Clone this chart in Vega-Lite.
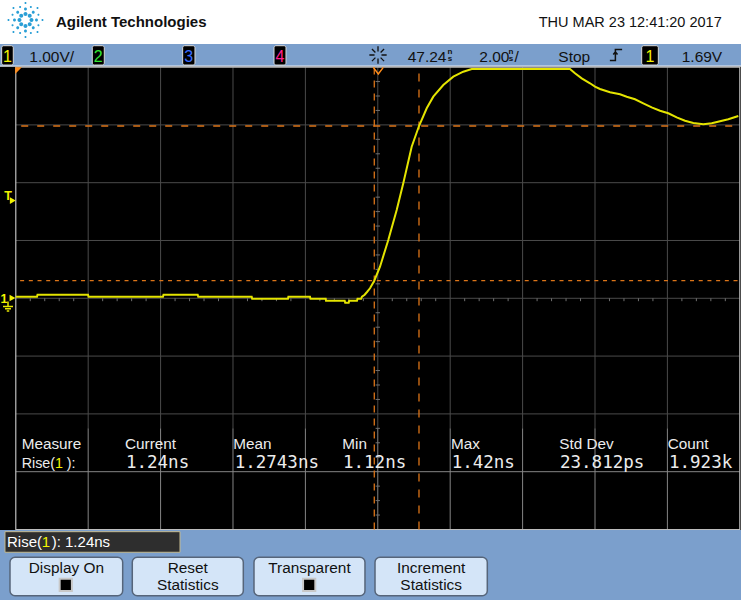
{
  "$schema": "https://vega.github.io/schema/vega-lite/v6.json",
  "width": 741,
  "height": 600,
  "padding": 0,
  "autosize": {"type": "none"},
  "background": "#ffffff",
  "config": {"view": {"stroke": null}, "text": {"baseline": "alphabetic"}},
  "encoding": {
    "x": {"field": "t", "type": "quantitative", "scale": {"domain": [-10.436, 10.033], "nice": false, "zero": false}, "axis": null},
    "y": {"field": "v", "type": "quantitative", "scale": {"domain": [-5.22, 5.161], "nice": false, "zero": false}, "axis": null}
  },
  "resolve": {"scale": {"color": "independent"}},
  "layer": [
    {
      "data": {"values": [
        {"t": -10.436, "t2": 10.033, "v": 4.4, "v2": 4.019},
        {"t": -10.436, "t2": 10.033, "v": -4.009, "v2": -5.22}
      ]},
      "mark": {"type": "rect", "color": "#7b9fcc"},
      "encoding": {"x2": {"field": "t2"}, "y2": {"field": "v2"}}
    },
    {
      "data": {"values": [{"t": -10.436, "t2": 10.033, "v": 4.019, "v2": -4.009}]},
      "mark": {"type": "rect", "color": "#000000"},
      "encoding": {"x2": {"field": "t2"}, "y2": {"field": "v2"}}
    },
    {
      "data": {"values": [{"t": -10.436, "t2": 10.033, "v": 4.017}]},
      "mark": {"type": "rule", "color": "#e6ecf5", "strokeWidth": 1.2},
      "encoding": {"x2": {"field": "t2"}}
    },
    {
      "data": {"values": [
        {"t": -8, "v": -2.25, "v2": 4}, {"t": -6, "v": -2.25, "v2": 4}, {"t": -4, "v": -2.25, "v2": 4},
        {"t": -2, "v": -2.25, "v2": 4}, {"t": 0, "v": -2.25, "v2": 4}, {"t": 2, "v": -2.25, "v2": 4},
        {"t": 4, "v": -2.25, "v2": 4}, {"t": 6, "v": -2.25, "v2": 4}, {"t": 8, "v": -2.25, "v2": 4}
      ]},
      "mark": {"type": "rule", "color": "#4a4a4a", "strokeWidth": 1},
      "encoding": {"y2": {"field": "v2"}}
    },
    {
      "data": {"values": [
        {"t": -8, "v": -4, "v2": -2.25}, {"t": -6, "v": -4, "v2": -2.25}, {"t": -4, "v": -4, "v2": -2.25},
        {"t": -2, "v": -4, "v2": -2.25}, {"t": 0, "v": -4, "v2": -2.25}, {"t": 2, "v": -4, "v2": -2.25},
        {"t": 4, "v": -4, "v2": -2.25}, {"t": 6, "v": -4, "v2": -2.25}, {"t": 8, "v": -4, "v2": -2.25}
      ]},
      "mark": {"type": "rule", "color": "#858585", "strokeWidth": 1},
      "encoding": {"y2": {"field": "v2"}}
    },
    {
      "data": {"values": [
        {"v": -2, "t": -10, "t2": 10}, {"v": -1, "t": -10, "t2": 10}, {"v": 0, "t": -10, "t2": 10},
        {"v": 1, "t": -10, "t2": 10}, {"v": 2, "t": -10, "t2": 10}, {"v": 3, "t": -10, "t2": 10}
      ]},
      "mark": {"type": "rule", "color": "#4a4a4a", "strokeWidth": 1},
      "encoding": {"x2": {"field": "t2"}}
    },
    {
      "data": {"values": [{"v": -3, "t": -10, "t2": 10}]},
      "mark": {"type": "rule", "color": "#858585", "strokeWidth": 1},
      "encoding": {"x2": {"field": "t2"}}
    },
    {
      "data": {"values": [
        {"t": -9.6, "v": 0, "v2": -0.05}, {"t": -9.2, "v": 0, "v2": -0.05}, {"t": -8.8, "v": 0, "v2": -0.05}, {"t": -8.4, "v": 0, "v2": -0.05},
        {"t": -7.6, "v": 0, "v2": -0.05}, {"t": -7.2, "v": 0, "v2": -0.05}, {"t": -6.8, "v": 0, "v2": -0.05}, {"t": -6.4, "v": 0, "v2": -0.05},
        {"t": -5.6, "v": 0, "v2": -0.05}, {"t": -5.2, "v": 0, "v2": -0.05}, {"t": -4.8, "v": 0, "v2": -0.05}, {"t": -4.4, "v": 0, "v2": -0.05},
        {"t": -3.6, "v": 0, "v2": -0.05}, {"t": -3.2, "v": 0, "v2": -0.05}, {"t": -2.8, "v": 0, "v2": -0.05}, {"t": -2.4, "v": 0, "v2": -0.05},
        {"t": -1.6, "v": 0, "v2": -0.05}, {"t": -1.2, "v": 0, "v2": -0.05}, {"t": -0.8, "v": 0, "v2": -0.05}, {"t": -0.4, "v": 0, "v2": -0.05},
        {"t": 0.4, "v": 0, "v2": -0.05}, {"t": 0.8, "v": 0, "v2": -0.05}, {"t": 1.2, "v": 0, "v2": -0.05}, {"t": 1.6, "v": 0, "v2": -0.05},
        {"t": 2.4, "v": 0, "v2": -0.05}, {"t": 2.8, "v": 0, "v2": -0.05}, {"t": 3.2, "v": 0, "v2": -0.05}, {"t": 3.6, "v": 0, "v2": -0.05},
        {"t": 4.4, "v": 0, "v2": -0.05}, {"t": 4.8, "v": 0, "v2": -0.05}, {"t": 5.2, "v": 0, "v2": -0.05}, {"t": 5.6, "v": 0, "v2": -0.05},
        {"t": 6.4, "v": 0, "v2": -0.05}, {"t": 6.8, "v": 0, "v2": -0.05}, {"t": 7.2, "v": 0, "v2": -0.05}, {"t": 7.6, "v": 0, "v2": -0.05},
        {"t": 8.4, "v": 0, "v2": -0.05}, {"t": 8.8, "v": 0, "v2": -0.05}, {"t": 9.2, "v": 0, "v2": -0.05}, {"t": 9.6, "v": 0, "v2": -0.05}
      ]},
      "mark": {"type": "rule", "color": "#707070", "strokeWidth": 1},
      "encoding": {"y2": {"field": "v2"}}
    },
    {
      "data": {"values": [
        {"v": -3.75, "t": -0.06, "t2": 0.06}, {"v": -3.5, "t": -0.06, "t2": 0.06}, {"v": -3.25, "t": -0.06, "t2": 0.06},
        {"v": -2.75, "t": -0.06, "t2": 0.06}, {"v": -2.5, "t": -0.06, "t2": 0.06}, {"v": -2.25, "t": -0.06, "t2": 0.06},
        {"v": -1.75, "t": -0.06, "t2": 0.06}, {"v": -1.5, "t": -0.06, "t2": 0.06}, {"v": -1.25, "t": -0.06, "t2": 0.06},
        {"v": -0.75, "t": -0.06, "t2": 0.06}, {"v": -0.5, "t": -0.06, "t2": 0.06}, {"v": -0.25, "t": -0.06, "t2": 0.06},
        {"v": 0.25, "t": -0.06, "t2": 0.06}, {"v": 0.5, "t": -0.06, "t2": 0.06}, {"v": 0.75, "t": -0.06, "t2": 0.06},
        {"v": 1.25, "t": -0.06, "t2": 0.06}, {"v": 1.5, "t": -0.06, "t2": 0.06}, {"v": 1.75, "t": -0.06, "t2": 0.06},
        {"v": 2.25, "t": -0.06, "t2": 0.06}, {"v": 2.5, "t": -0.06, "t2": 0.06}, {"v": 2.75, "t": -0.06, "t2": 0.06},
        {"v": 3.25, "t": -0.06, "t2": 0.06}, {"v": 3.5, "t": -0.06, "t2": 0.06}, {"v": 3.75, "t": -0.06, "t2": 0.06}
      ]},
      "mark": {"type": "rule", "color": "#707070", "strokeWidth": 1},
      "encoding": {"x2": {"field": "t2"}}
    },
    {
      "data": {"values": [{"t": -10, "t2": 10, "v": -4, "v2": 4}]},
      "mark": {"type": "rect", "fillOpacity": 0, "stroke": "#bdbdbd", "strokeWidth": 1.2},
      "encoding": {"x2": {"field": "t2"}, "y2": {"field": "v2"}}
    },
    {
      "data": {"values": [{"v": 2.981, "t": -9.85, "t2": 10}]},
      "mark": {"type": "rule", "color": "#dc7418", "strokeWidth": 1.3, "strokeDash": [7, 9]},
      "encoding": {"x2": {"field": "t2"}}
    },
    {
      "data": {"values": [{"v": 0.3045, "t": -9.88, "t2": 10}]},
      "mark": {"type": "rule", "color": "#dc7418", "strokeWidth": 1.3, "strokeDash": [4, 4.7]},
      "encoding": {"x2": {"field": "t2"}}
    },
    {
      "data": {"values": [{"t": -0.097, "v": -4, "v2": 4}]},
      "mark": {"type": "rule", "color": "#dc7418", "strokeWidth": 1.3, "strokeDash": [7, 6]},
      "encoding": {"y2": {"field": "v2"}}
    },
    {
      "data": {"values": [{"t": 1.138, "v": -4, "v2": 4}]},
      "mark": {"type": "rule", "color": "#dc7418", "strokeWidth": 1.3, "strokeDash": [8, 8]},
      "encoding": {"y2": {"field": "v2"}}
    },
    {
      "data": {"values": [
        {"t": -10.0, "v": 0.028},
        {"t": -9.414, "v": 0.028}, {"t": -9.4, "v": 0.062},
        {"t": -8.005, "v": 0.062}, {"t": -7.99, "v": 0.028},
        {"t": -5.934, "v": 0.028}, {"t": -5.92, "v": 0.062},
        {"t": -4.975, "v": 0.062}, {"t": -4.96, "v": 0.028},
        {"t": -3.483, "v": 0.028}, {"t": -3.47, "v": -0.007},
        {"t": -2.481, "v": -0.007}, {"t": -2.47, "v": 0.028},
        {"t": -1.873, "v": 0.028}, {"t": -1.86, "v": -0.007},
        {"t": -1.439, "v": -0.007}, {"t": -1.43, "v": -0.042},
        {"t": -0.914, "v": -0.042}, {"t": -0.9, "v": -0.076},
        {"t": -0.804, "v": -0.076}, {"t": -0.79, "v": -0.042},
        {"t": -0.575, "v": -0.042}, {"t": -0.56, "v": -0.007},
        {"t": -0.46, "v": -0.007},
        {"t": -0.436, "v": 0.028},
        {"t": -0.362, "v": 0.062},
        {"t": -0.298, "v": 0.109},
        {"t": -0.215, "v": 0.173},
        {"t": -0.097, "v": 0.304},
        {"t": 0.061, "v": 0.547},
        {"t": 0.29, "v": 1.009},
        {"t": 0.522, "v": 1.528},
        {"t": 0.704, "v": 1.99},
        {"t": 0.936, "v": 2.623},
        {"t": 1.138, "v": 2.981},
        {"t": 1.351, "v": 3.287},
        {"t": 1.533, "v": 3.488},
        {"t": 1.809, "v": 3.69},
        {"t": 2.086, "v": 3.834},
        {"t": 2.362, "v": 3.92},
        {"t": 2.594, "v": 3.967},
        {"t": 5.309, "v": 3.967},
        {"t": 5.447, "v": 3.893},
        {"t": 5.633, "v": 3.806},
        {"t": 5.862, "v": 3.72},
        {"t": 6.0, "v": 3.661},
        {"t": 6.138, "v": 3.621},
        {"t": 6.414, "v": 3.564},
        {"t": 6.691, "v": 3.529},
        {"t": 6.876, "v": 3.488},
        {"t": 7.105, "v": 3.443},
        {"t": 7.334, "v": 3.374},
        {"t": 7.566, "v": 3.304},
        {"t": 7.796, "v": 3.246},
        {"t": 8.025, "v": 3.201},
        {"t": 8.257, "v": 3.131},
        {"t": 8.486, "v": 3.073},
        {"t": 8.715, "v": 3.033},
        {"t": 8.992, "v": 3.01},
        {"t": 9.224, "v": 3.028},
        {"t": 9.453, "v": 3.062},
        {"t": 9.683, "v": 3.097},
        {"t": 9.959, "v": 3.154}
      ]},
      "mark": {"type": "line", "color": "#e4e400", "strokeWidth": 2},
      "encoding": {}
    },
    {
      "data": {"values": [{"t": -9.925, "v": 3.939}]},
      "mark": {"type": "point", "shape": "M-1,-1H1L-1,1Z", "filled": true, "color": "#ff8c1a", "size": 44, "opacity": 1},
      "encoding": {}
    },
    {
      "data": {"values": [{"t": 0.014, "v": 3.938}]},
      "mark": {"type": "point", "shape": "M-1,-0.66L0,0.66L1,-0.66", "filled": false, "color": "#ff8c1a", "strokeWidth": 1.5, "size": 100, "opacity": 1},
      "encoding": {}
    },
    {
      "data": {"values": [{"t": -10.083, "v": 1.69}, {"t": -10.091, "v": 0.005}]},
      "mark": {"type": "point", "shape": "triangle-right", "filled": true, "color": "#f2f200", "size": 45, "opacity": 1},
      "encoding": {}
    },
    {
      "data": {"values": [{"t": -10.215, "v": -0.142}]},
      "mark": {"type": "point", "shape": "M0,-1V0M-1,0H1M-0.6,0.45H0.6M-0.25,0.9H0.25", "filled": false, "color": "#e6e600", "strokeWidth": 1.5, "size": 100, "opacity": 1},
      "encoding": {}
    },
    {
      "data": {"values": [{"t": -10.215, "v": 1.709, "label": "T"}, {"t": -10.326, "v": -0.081, "label": "1"}]},
      "mark": {"type": "text", "align": "center", "font": "Liberation Sans", "fontWeight": "bold", "fontSize": 12.5, "color": "#f2f200"},
      "encoding": {"text": {"field": "label"}}
    },
    {
      "data": {"values": [{"t": -9.732, "v": 4.815}]},
      "mark": {"type": "point", "shape": "M0.2,0a0.1,0.1 0 1,0 0.2,0a0.1,0.1 0 1,0 -0.2,0ZM0.112,0.212a0.1,0.1 0 1,0 0.2,0a0.1,0.1 0 1,0 -0.2,0ZM-0.1,0.3a0.1,0.1 0 1,0 0.2,0a0.1,0.1 0 1,0 -0.2,0ZM-0.312,0.212a0.1,0.1 0 1,0 0.2,0a0.1,0.1 0 1,0 -0.2,0ZM-0.4,0a0.1,0.1 0 1,0 0.2,0a0.1,0.1 0 1,0 -0.2,0ZM-0.312,-0.212a0.1,0.1 0 1,0 0.2,0a0.1,0.1 0 1,0 -0.2,0ZM-0.1,-0.3a0.1,0.1 0 1,0 0.2,0a0.1,0.1 0 1,0 -0.2,0ZM0.112,-0.212a0.1,0.1 0 1,0 0.2,0a0.1,0.1 0 1,0 -0.2,0ZM0.475,0a0.075,0.075 0 1,0 0.15,0a0.075,0.075 0 1,0 -0.15,0ZM0.314,0.389a0.075,0.075 0 1,0 0.15,0a0.075,0.075 0 1,0 -0.15,0ZM-0.075,0.55a0.075,0.075 0 1,0 0.15,0a0.075,0.075 0 1,0 -0.15,0ZM-0.464,0.389a0.075,0.075 0 1,0 0.15,0a0.075,0.075 0 1,0 -0.15,0ZM-0.625,0a0.075,0.075 0 1,0 0.15,0a0.075,0.075 0 1,0 -0.15,0ZM-0.464,-0.389a0.075,0.075 0 1,0 0.15,0a0.075,0.075 0 1,0 -0.15,0ZM-0.075,-0.55a0.075,0.075 0 1,0 0.15,0a0.075,0.075 0 1,0 -0.15,0ZM0.314,-0.389a0.075,0.075 0 1,0 0.15,0a0.075,0.075 0 1,0 -0.15,0ZM0.8,0a0.05,0.05 0 1,0 0.1,0a0.05,0.05 0 1,0 -0.1,0ZM0.551,0.601a0.05,0.05 0 1,0 0.1,0a0.05,0.05 0 1,0 -0.1,0ZM-0.05,0.85a0.05,0.05 0 1,0 0.1,0a0.05,0.05 0 1,0 -0.1,0ZM-0.651,0.601a0.05,0.05 0 1,0 0.1,0a0.05,0.05 0 1,0 -0.1,0ZM-0.9,0a0.05,0.05 0 1,0 0.1,0a0.05,0.05 0 1,0 -0.1,0ZM-0.651,-0.601a0.05,0.05 0 1,0 0.1,0a0.05,0.05 0 1,0 -0.1,0ZM-0.05,-0.85a0.05,0.05 0 1,0 0.1,0a0.05,0.05 0 1,0 -0.1,0ZM0.551,-0.601a0.05,0.05 0 1,0 0.1,0a0.05,0.05 0 1,0 -0.1,0ZM0.597,0.268a0.05,0.05 0 1,0 0.1,0a0.05,0.05 0 1,0 -0.1,0ZM0.218,0.647a0.05,0.05 0 1,0 0.1,0a0.05,0.05 0 1,0 -0.1,0ZM-0.318,0.647a0.05,0.05 0 1,0 0.1,0a0.05,0.05 0 1,0 -0.1,0ZM-0.697,0.268a0.05,0.05 0 1,0 0.1,0a0.05,0.05 0 1,0 -0.1,0ZM-0.697,-0.268a0.05,0.05 0 1,0 0.1,0a0.05,0.05 0 1,0 -0.1,0ZM-0.318,-0.647a0.05,0.05 0 1,0 0.1,0a0.05,0.05 0 1,0 -0.1,0ZM0.218,-0.647a0.05,0.05 0 1,0 0.1,0a0.05,0.05 0 1,0 -0.1,0ZM0.597,-0.268a0.05,0.05 0 1,0 0.1,0a0.05,0.05 0 1,0 -0.1,0Z", "filled": true, "color": "#2a9fd6", "size": 1600, "opacity": 1},
      "encoding": {}
    },
    {
      "data": {"values": [{"t": -8.89, "v": 4.689, "label": "Agilent Technologies"}]},
      "mark": {"type": "text", "align": "left", "font": "Liberation Sans", "fontWeight": "bold", "fontSize": 15, "color": "#111111"},
      "encoding": {"text": {"field": "label"}}
    },
    {
      "data": {"values": [{"t": 9.5, "v": 4.689, "label": "THU MAR 23 12:41:20 2017"}]},
      "mark": {"type": "text", "align": "right", "font": "Liberation Sans", "fontSize": 14.5, "color": "#111111"},
      "encoding": {"text": {"field": "label"}}
    },
    {
      "data": {"values": [
        {"t": -10.39, "t2": -10.069, "v": 4.37, "v2": 4.036},
        {"t": -7.887, "t2": -7.555, "v": 4.37, "v2": 4.036},
        {"t": -5.39, "t2": -5.05, "v": 4.37, "v2": 4.036},
        {"t": -2.867, "t2": -2.536, "v": 4.37, "v2": 4.036},
        {"t": 7.29, "t2": 7.749, "v": 4.37, "v2": 4.036}
      ]},
      "mark": {"type": "rect", "color": "#000000", "stroke": "#d8d8d8", "strokeWidth": 1, "cornerRadius": 2},
      "encoding": {"x2": {"field": "t2"}, "y2": {"field": "v2"}}
    },
    {
      "data": {"values": [
        {"t": -10.229, "v": 4.093, "label": "1", "ch": "c1"},
        {"t": -7.721, "v": 4.093, "label": "2", "ch": "c2"},
        {"t": -5.22, "v": 4.093, "label": "3", "ch": "c3"},
        {"t": -2.702, "v": 4.093, "label": "4", "ch": "c4"},
        {"t": 7.519, "v": 4.093, "label": "1", "ch": "c1"}
      ]},
      "mark": {"type": "text", "align": "center", "font": "Liberation Sans", "fontSize": 16},
      "encoding": {
        "text": {"field": "label"},
        "color": {"field": "ch", "type": "nominal", "scale": {"domain": ["c1", "c2", "c3", "c4"], "range": ["#f4f400", "#33e633", "#3a6dff", "#ff1f8f"]}, "legend": null}
      }
    },
    {
      "data": {"values": [
        {"t": -9.627, "v": 4.093, "label": "1.00V/"},
        {"t": 0.826, "v": 4.093, "label": "47.24"},
        {"t": 2.804, "v": 4.093, "label": "2.00"},
        {"t": 3.776, "v": 4.093, "label": "/"},
        {"t": 4.986, "v": 4.093, "label": "Stop"},
        {"t": 8.395, "v": 4.093, "label": "1.69V"}
      ]},
      "mark": {"type": "text", "align": "left", "font": "Liberation Sans", "fontSize": 15.5, "color": "#111111"},
      "encoding": {"text": {"field": "label"}}
    },
    {
      "data": {"values": [
        {"t": 1.995, "v": 4.227, "label": "n"},
        {"t": 1.995, "v": 4.097, "label": "s"},
        {"t": 3.68, "v": 4.227, "label": "n"},
        {"t": 3.68, "v": 4.097, "label": "s"}
      ]},
      "mark": {"type": "text", "align": "center", "font": "Liberation Sans", "fontWeight": "bold", "fontSize": 8, "color": "#111111"},
      "encoding": {"text": {"field": "label"}}
    },
    {
      "data": {"values": [{"t": 0.006, "v": 4.209}]},
      "mark": {"type": "point", "shape": "M-1,0H-0.4M0.4,0H1M0,-1V-0.4M0,0.4V1M-0.7,-0.7L-0.3,-0.3M0.3,0.3L0.7,0.7M-0.7,0.7L-0.3,0.3M0.3,-0.3L0.7,-0.7", "filled": false, "color": "#111111", "strokeWidth": 1.3, "size": 300, "opacity": 1},
      "encoding": {}
    },
    {
      "data": {"values": [{"t": 6.58, "v": 4.209}]},
      "mark": {"type": "point", "shape": "M-1,0.9H-0.1V-0.9H1M-0.45,-0.1L-0.1,-0.5L0.25,-0.1", "filled": false, "color": "#111111", "strokeWidth": 1.5, "size": 150, "opacity": 1},
      "encoding": {}
    },
    {
      "data": {"values": [
        {"t": -9.837, "v": -2.612, "label": "Measure"},
        {"t": -6.983, "v": -2.612, "label": "Current"},
        {"t": -3.992, "v": -2.612, "label": "Mean"},
        {"t": -0.981, "v": -2.612, "label": "Min"},
        {"t": 2.022, "v": -2.612, "label": "Max"},
        {"t": 5.014, "v": -2.612, "label": "Std Dev"},
        {"t": 8.008, "v": -2.612, "label": "Count"}
      ]},
      "mark": {"type": "text", "align": "left", "font": "Liberation Sans", "fontSize": 15.3, "color": "#ececec"},
      "encoding": {"text": {"field": "label"}}
    },
    {
      "data": {"values": [
        {"t": -9.837, "v": -2.941, "label": "Rise("},
        {"t": -8.594, "v": -2.941, "label": "):"}
      ]},
      "mark": {"type": "text", "align": "left", "font": "Liberation Sans", "fontSize": 14.3, "color": "#ececec"},
      "encoding": {"text": {"field": "label"}}
    },
    {
      "data": {"values": [{"t": -8.917, "v": -2.941, "label": "1"}]},
      "mark": {"type": "text", "align": "left", "font": "Liberation Sans", "fontSize": 14.3, "color": "#f4f400"},
      "encoding": {"text": {"field": "label"}}
    },
    {
      "data": {"values": [
        {"t": -6.956, "v": -2.941, "label": "1.24ns"},
        {"t": -3.953, "v": -2.941, "label": "1.2743ns"},
        {"t": -0.961, "v": -2.941, "label": "1.12ns"},
        {"t": 2.041, "v": -2.941, "label": "1.42ns"},
        {"t": 5.033, "v": -2.941, "label": "23.812ps"},
        {"t": 8.044, "v": -2.941, "label": "1.923k"}
      ]},
      "mark": {"type": "text", "align": "left", "font": "DejaVu Sans Mono", "fontSize": 17.5, "color": "#ececec"},
      "encoding": {"text": {"field": "label"}}
    },
    {
      "data": {"values": [{"t": -10.298, "t2": -5.464, "v": -4.038, "v2": -4.394}]},
      "mark": {"type": "rect", "color": "#2e2e2e", "stroke": "#c4bb90", "strokeWidth": 1},
      "encoding": {"x2": {"field": "t2"}, "y2": {"field": "v2"}}
    },
    {
      "data": {"values": [
        {"t": -10.243, "v": -4.298, "label": "Rise("},
        {"t": -9.008, "v": -4.298, "label": "): 1.24ns"}
      ]},
      "mark": {"type": "text", "align": "left", "font": "Liberation Sans", "fontSize": 15, "color": "#ffffff"},
      "encoding": {"text": {"field": "label"}}
    },
    {
      "data": {"values": [{"t": -9.285, "v": -4.298, "label": "1"}]},
      "mark": {"type": "text", "align": "left", "font": "Liberation Sans", "fontSize": 15, "color": "#f4f400"},
      "encoding": {"text": {"field": "label"}}
    },
    {
      "data": {"values": [
        {"t": -10.16, "t2": -7.047, "v": -4.481, "v2": -5.146},
        {"t": -6.782, "t2": -3.715, "v": -4.481, "v2": -5.146},
        {"t": -3.42, "t2": -0.354, "v": -4.481, "v2": -5.146},
        {"t": -0.077, "t2": 3.025, "v": -4.481, "v2": -5.146}
      ]},
      "mark": {"type": "rect", "color": "#d4e5f8", "stroke": "#56657a", "strokeWidth": 1.5, "cornerRadius": 5},
      "encoding": {"x2": {"field": "t2"}, "y2": {"field": "v2"}}
    },
    {
      "data": {"values": [
        {"t": -8.604, "v": -4.747, "label": "Display On"},
        {"t": -5.249, "v": -4.747, "label": "Reset"},
        {"t": -5.249, "v": -5.047, "label": "Statistics"},
        {"t": -1.887, "v": -4.747, "label": "Transparent"},
        {"t": 1.474, "v": -4.747, "label": "Increment"},
        {"t": 1.474, "v": -5.047, "label": "Statistics"}
      ]},
      "mark": {"type": "text", "align": "center", "font": "Liberation Sans", "fontSize": 15.4, "color": "#111111"},
      "encoding": {"text": {"field": "label"}}
    },
    {
      "data": {"values": [{"t": -8.619, "v": -4.96}, {"t": -1.895, "v": -4.96}]},
      "mark": {"type": "point", "shape": "square", "filled": true, "color": "#000000", "stroke": "#c8c8c8", "strokeWidth": 2, "size": 150, "opacity": 1},
      "encoding": {}
    }
  ]
}
